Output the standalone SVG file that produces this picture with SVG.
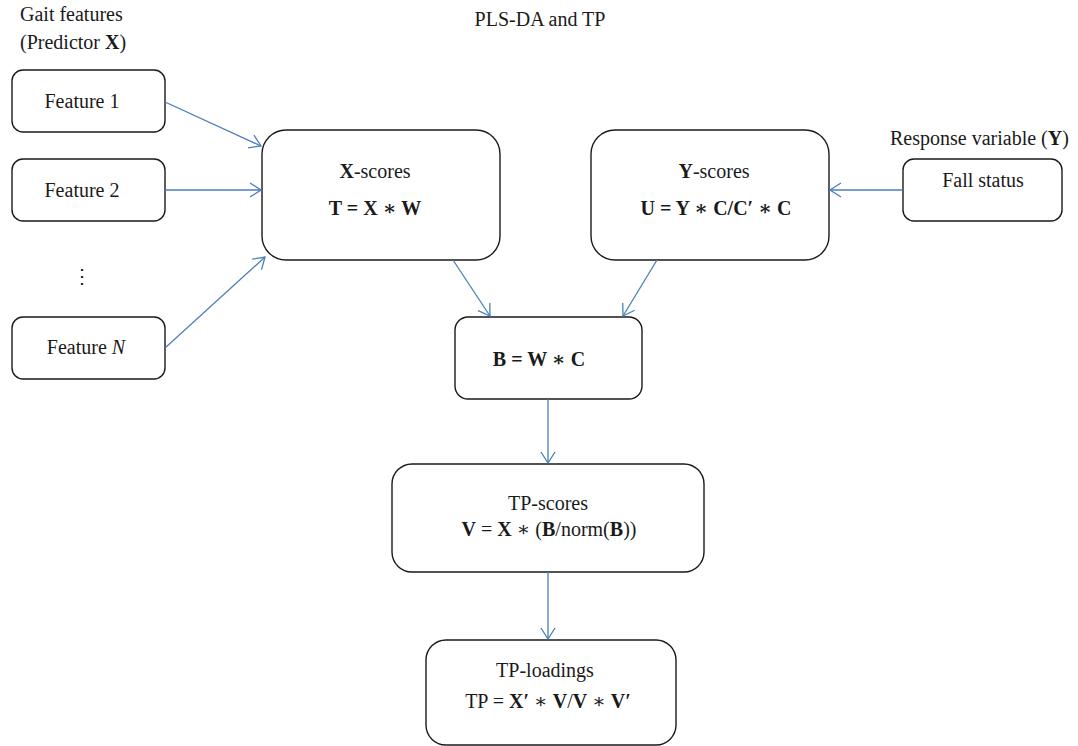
<svg xmlns="http://www.w3.org/2000/svg" width="1078" height="746" viewBox="0 0 1078 746">
<style>
  .box { fill: #ffffff; stroke: #1a1a1a; stroke-width: 1.4; }
  text { font-family: 'Liberation Serif', 'DejaVu Serif', serif; font-size: 20px; fill: #1a1a1a; }
  .c { text-anchor: middle; }
  .b { font-weight: bold; }
  .conn { stroke: #4a7ebb; stroke-width: 1.3; fill: none; marker-end: url(#arr); }
</style>
<defs>
  <marker id="arr" markerUnits="userSpaceOnUse" markerWidth="14" markerHeight="16" refX="12" refY="8" orient="auto">
    <path d="M1,1 L12,8 L1,15" fill="none" stroke="#4a7ebb" stroke-width="1.3"/>
  </marker>
</defs>
<rect width="1078" height="746" fill="#ffffff"/>

<g id="labels" font-family="Liberation Serif, serif">
  <text x="20" y="21">Gait features</text>
  <text x="20" y="49">(Predictor <tspan class="b">X</tspan>)</text>
  <text class="c" x="540" y="26">PLS-DA and TP</text>
  <text x="890" y="145">Response variable (<tspan class="b">Y</tspan>)</text>
  <text class="c" x="82" y="283">⋮</text>
</g>

<g id="feature1">
  <rect class="box" x="12" y="70" width="153" height="62" rx="11"/>
  <text class="c" x="82" y="108">Feature 1</text>
</g>
<g id="feature2">
  <rect class="box" x="12" y="159" width="153" height="62" rx="11"/>
  <text class="c" x="82" y="197">Feature 2</text>
</g>
<g id="featureN">
  <rect class="box" x="12" y="317" width="153" height="62" rx="11"/>
  <text class="c" x="86" y="354">Feature <tspan font-style="italic">N</tspan></text>
</g>
<g id="xscores">
  <rect class="box" x="262" y="130" width="238" height="130" rx="24"/>
  <text class="c" x="375" y="178"><tspan class="b">X</tspan>-scores</text>
  <text class="c b" x="375" y="215">T = X ∗ W</text>
</g>
<g id="yscores">
  <rect class="box" x="591" y="130" width="238" height="130" rx="24"/>
  <text class="c" x="714" y="178"><tspan class="b">Y</tspan>-scores</text>
  <text class="c b" x="716" y="215">U = Y ∗ C/C′ ∗ C</text>
</g>
<g id="fallstatus">
  <rect class="box" x="903" y="159" width="159" height="62" rx="11"/>
  <text class="c" x="983" y="187">Fall status</text>
</g>
<g id="bnode">
  <rect class="box" x="455" y="317" width="187" height="82" rx="13"/>
  <text class="c b" x="539" y="366">B = W ∗ C</text>
</g>
<g id="tpscores">
  <rect class="box" x="392" y="464" width="312" height="108" rx="20"/>
  <text class="c" x="548" y="510">TP-scores</text>
  <text class="c" x="549" y="536"><tspan class="b">V</tspan> = <tspan class="b">X</tspan> ∗ (<tspan class="b">B</tspan>/norm(<tspan class="b">B</tspan>))</text>
</g>
<g id="tploadings">
  <rect class="box" x="426" y="640" width="250" height="105" rx="20"/>
  <text class="c" x="545" y="677">TP-loadings</text>
  <text class="c" x="548" y="708">TP = <tspan class="b">X′</tspan> ∗ <tspan class="b">V</tspan>/<tspan class="b">V</tspan> ∗ <tspan class="b">V′</tspan></text>
</g>

<g id="connectors">
  <line class="conn" x1="165" y1="102" x2="261" y2="146"/>
  <line class="conn" x1="165" y1="190" x2="261" y2="190"/>
  <line class="conn" x1="165" y1="348" x2="265" y2="257"/>
  <line class="conn" x1="453" y1="260" x2="490" y2="316"/>
  <line class="conn" x1="657" y1="260" x2="623" y2="316"/>
  <line class="conn" x1="903" y1="190" x2="830" y2="190"/>
  <line class="conn" x1="548" y1="399" x2="548" y2="463"/>
  <line class="conn" x1="548" y1="572" x2="548" y2="639"/>
</g>
</svg>
